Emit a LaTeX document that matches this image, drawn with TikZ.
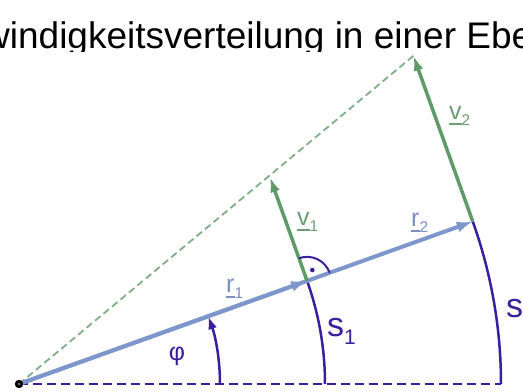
\documentclass[tikz,border=0pt]{standalone}
\usepackage{fontspec}
\setmainfont{Liberation Sans}
\usetikzlibrary{arrows.meta,calc}
\definecolor{rblue}{HTML}{7D97CC}
\definecolor{rtext}{HTML}{7A8FC0}
\definecolor{vgreen}{HTML}{5F9B68}
\definecolor{vtext}{HTML}{6E9E74}
\definecolor{lightgreen}{HTML}{7FAE88}
\definecolor{arcblue}{HTML}{3B1E9E}

\newcommand{\idx}[1]{\raisebox{-0.22em}{\scalebox{0.62}{#1}}}
\newcommand{\ul}[1]{\setbox0\hbox{#1}\rlap{\rule[-0.2em]{\wd0}{0.08em}}\box0}

\tikzset{
  rvec/.style={rblue, line width=4pt, -{Latex[length=16pt,width=11pt]}},
  vvec/.style={vgreen, line width=3.5pt, -{Latex[length=15pt,width=10pt]}},
  arcline/.style={arcblue, line width=2.5pt},
  lab/.style={anchor=base west, inner sep=0pt},
  vecfont/.style={font=\fontsize{25}{28}\selectfont},
  arcfont/.style={font=\fontsize{34}{38}\selectfont}
}

\begin{document}
\begin{tikzpicture}[x=1pt,y=1pt]
\useasboundingbox (0,0) rectangle (523,391);
\clip (0,0) rectangle (523,391);

% title, cut off by the picture below
\begin{scope}
\clip (0,339) rectangle (523,391);
\node[lab, font=\fontsize{37}{40}\selectfont] (title) at (-17,342) {windigkeitsverteilung in einer Ebe};
\end{scope}

\coordinate (O) at (19,7);
\coordinate (P1) at ($(O)+(19.7:306)$);
\coordinate (P2) at ($(O)+(19.7:482)$);
\coordinate (V1) at ($(P1)+(109.7:110)$);
\coordinate (V2) at ($(P2)+(109.7:176)$);
\coordinate (B2) at ($(O)+(482,0)$);
\coordinate (A0) at ($(O)+(201,0)$);

% green guide line through the tips
\draw[lightgreen, line width=1.8pt, dash pattern=on 7pt off 4pt] (O) -- (V2);

% base line and arcs
\draw[arcline, line width=2.8pt, dash pattern=on 9pt off 5pt] (O) -- (B2);
\draw[arcline] (P1) arc[start angle=19.7, end angle=0, radius=306];
\draw[arcline] (P2) arc[start angle=19.7, end angle=0, radius=482];
\draw[arcline, -{Latex[length=13pt,width=9pt]}] (A0) arc[start angle=0, end angle=19.7, radius=201];

% position vectors
\draw[rvec] (O) -- (P2);
\draw[rvec] (O) -- (P1);

% velocities
\draw[vvec] (P1) -- (V1);
\draw[vvec] (P2) -- (V2);

% right angle
\draw[arcblue, line width=2pt] ($(P1)+(19.7:24)$) arc[start angle=19.7, end angle=109.7, radius=24];
\fill[arcblue] ($(P1)+(64:12)$) circle (2.3);

\fill[black] (O) circle (4.2);
\fill[gray] (O) circle (1.3);

% labels
\node[lab, rtext, vecfont] (lr1) at (226,98) {\ul{r}\idx{1}};
\node[lab, rtext, vecfont] (lr2) at (411,164) {\ul{r}\idx{2}};
\node[lab, vtext, vecfont] (lv1) at (297,165) {\ul{v}\idx{1}};
\node[lab, vtext, vecfont] (lv2) at (449,271) {\ul{v}\idx{2}};
\node[lab, arcblue, arcfont] (ls1) at (327,54) {s\idx{1}};
\node[lab, arcblue, arcfont] (ls2) at (506,73) {s};
\node[arcblue, inner sep=0pt, font=\fontsize{25}{28}\selectfont] (lphi) at (177,35) {φ};
\end{tikzpicture}
\end{document}
